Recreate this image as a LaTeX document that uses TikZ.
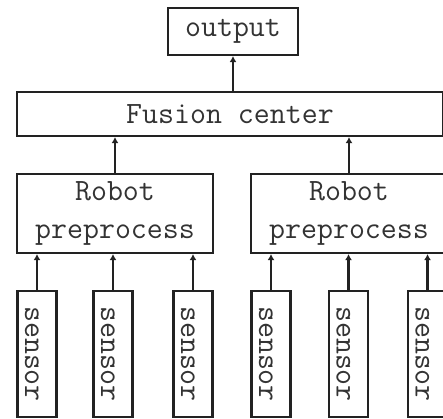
\documentclass[tikz,border=0pt]{standalone}
\usepackage{fontspec}
\usetikzlibrary{arrows.meta}
\definecolor{linec}{HTML}{222222}
\definecolor{textc}{HTML}{333333}
\begin{document}
\begin{tikzpicture}[x=1pt,y=-1pt,
  box/.style={draw=linec, line width=2.2pt, inner sep=0pt, align=center, text=textc,
    font=\ttfamily\fontsize{31}{38}\selectfont},
  sensorbox/.style={box, rotate=-90, minimum width=126pt, minimum height=39pt,
    text height=24pt, text depth=0pt},
  arr/.style={draw=linec, line width=2.2pt, -{Latex[length=6pt,width=7pt]}}]
\useasboundingbox (0,0) rectangle (443,418);
\clip (0,0) rectangle (443,418);
\node[box, minimum width=130pt, minimum height=47pt] (out) at (233,31.5) {output};
\node[box, minimum width=426pt, minimum height=44pt] (fus) at (230,114) {Fusion center};
\node[box, minimum width=196pt, minimum height=79pt] (rl) at (115,213.5) {Robot\\preprocess};
\node[box, minimum width=196pt, minimum height=79pt] (rr) at (349,213.5) {Robot\\preprocess};
\node[sensorbox] (s1) at (37,354) {sensor};
\node[sensorbox] (s2) at (113,354) {sensor};
\node[sensorbox] (s3) at (193,354) {sensor};
\node[sensorbox] (s4) at (271,354) {sensor};
\node[sensorbox] (s5) at (348.5,354) {sensor};
\node[sensorbox] (s6) at (427.5,354) {sensor};
\draw[arr] (out.south |- fus.north) -- (out.south);
\draw[arr] (rl.north) -- (rl.north |- fus.south);
\draw[arr] (rr.north) -- (rr.north |- fus.south);
\foreach \s/\r in {s1/rl,s2/rl,s3/rl,s4/rr,s5/rr,s6/rr}
  \draw[arr] (\s.west) -- (\s.west |- \r.south);
\end{tikzpicture}
\end{document}
